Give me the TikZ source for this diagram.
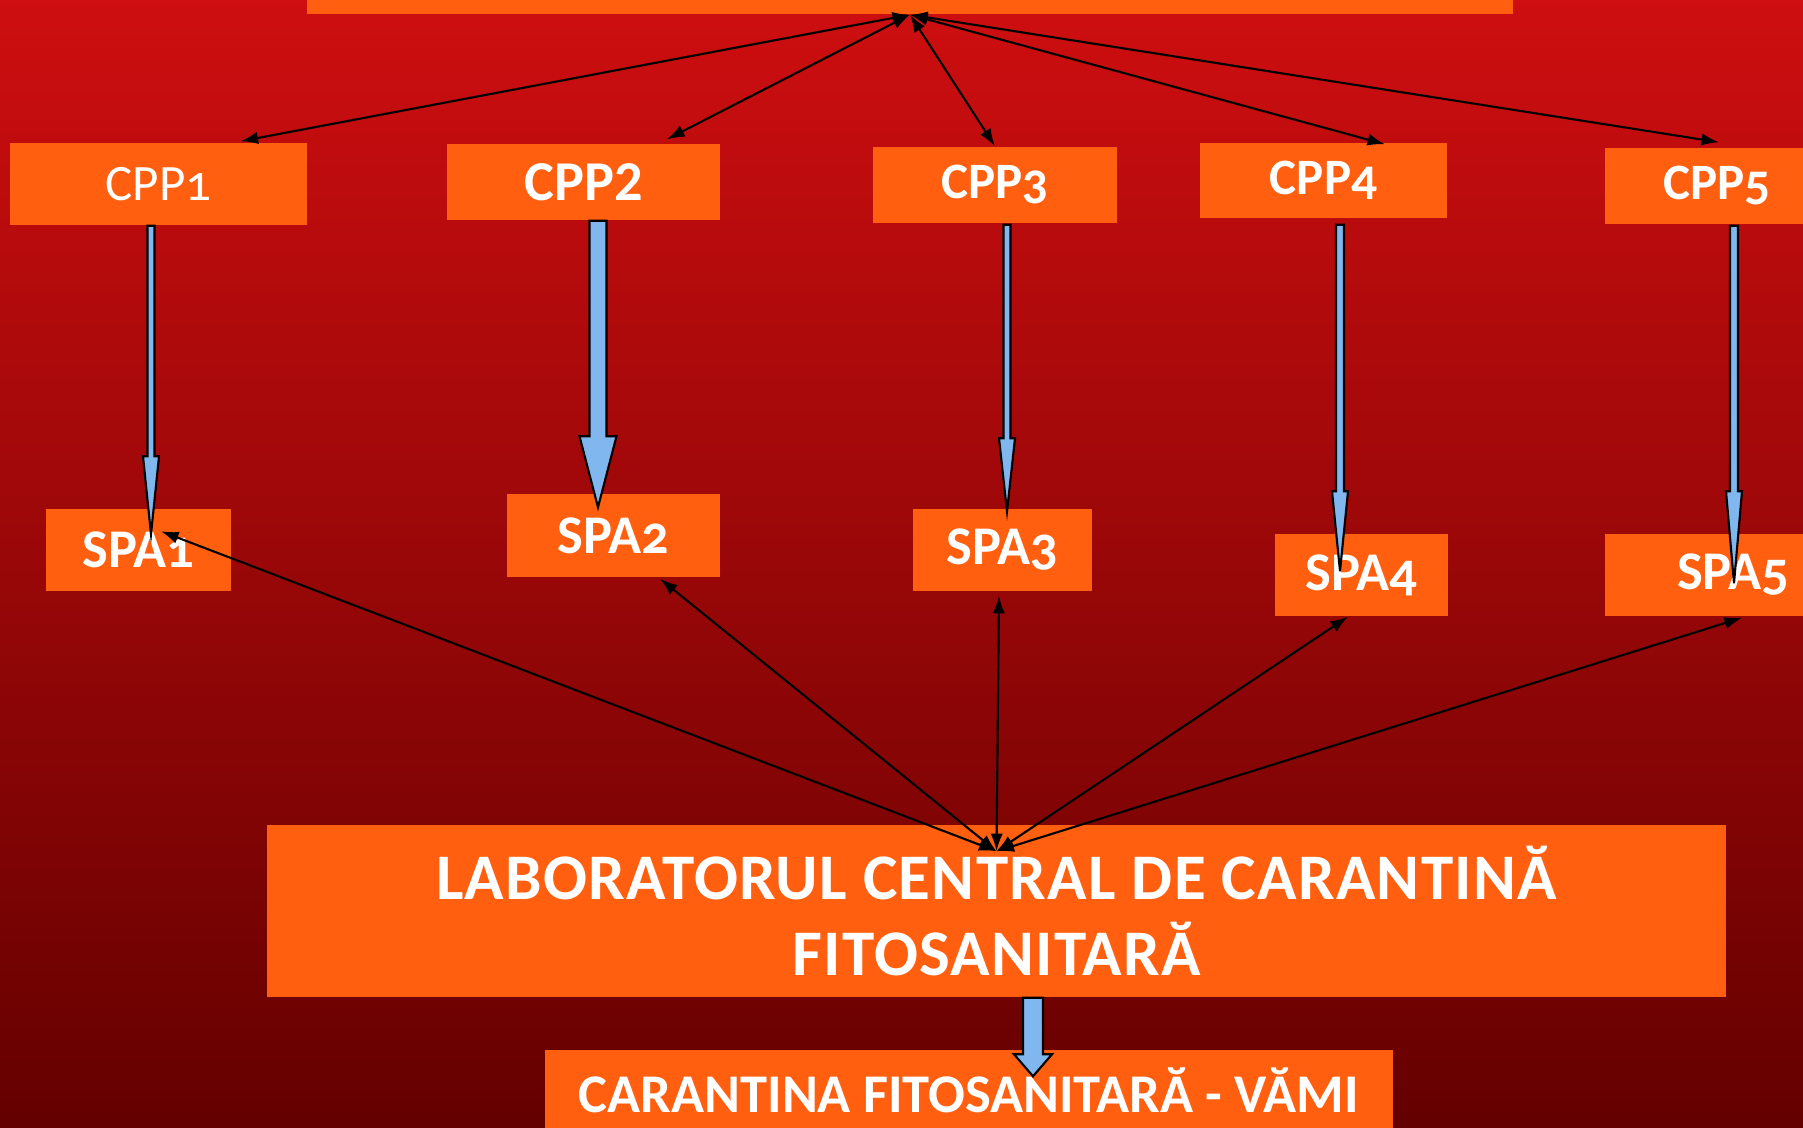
\documentclass[tikz,border=0pt]{standalone}
\usepackage{fontspec}
\setmainfont{Carlito}[Numbers=OldStyle]
\usetikzlibrary{arrows.meta,calc}
\definecolor{boxorange}{RGB}{255,95,14}
\definecolor{arrowblue}{RGB}{127,183,238}
\definecolor{bgtop}{RGB}{206,14,16}
\definecolor{bgmid}{RGB}{168,0,12}
\definecolor{bgbot}{RGB}{100,0,0}
\newcommand{\pxu}{0.2845pt}
% block arrow: start, tip, half shaft, half head, head length (px)
\newcommand{\blkarrow}[5]{%
  \draw[blue arrow] let \p1=#1, \p2=#2 in
    ({\x1-#3*\pxu},\y1) -- ({\x1-#3*\pxu},{\y2+#5*\pxu}) -- ({\x1-#4*\pxu},{\y2+#5*\pxu}) -- (\x1,\y2)
    -- ({\x1+#4*\pxu},{\y2+#5*\pxu}) -- ({\x1+#3*\pxu},{\y2+#5*\pxu}) -- ({\x1+#3*\pxu},\y1) -- cycle;}

\begin{document}
\begin{tikzpicture}[x=0.01cm, y=-0.01cm,
  box/.style={fill=boxorange, text=white, inner sep=0pt},
  cpp box/.style={box, font=\fontsize{14.5}{18}\selectfont\bfseries},
  spa box/.style={box, minimum height=0.82cm, font=\fontsize{15.5}{20}\selectfont\bfseries},
  link/.style={{Latex[length=5pt,width=3.5pt]}-{Latex[length=5pt,width=3.5pt]}, line width=0.6pt, black},
  blue arrow/.style={fill=arrowblue, draw=black, line width=0.6pt, line join=miter}]
\useasboundingbox (0,0) rectangle (1803,1128);
\clip (0,0) rectangle (1803,1128);
\shade[top color=bgtop, middle color=bgmid, bottom color=bgbot] (0,0) rectangle (1803,1128);

\node[box, minimum width=12.05cm, minimum height=0.68cm] (top) at (910,-20) {};
\node[cpp box, minimum width=2.97cm, minimum height=0.82cm, font=\fontsize{14.5}{18}\selectfont] (c1) at (158.5,184) {CPP1};
\node[cpp box, minimum width=2.73cm, minimum height=0.76cm, font=\fontsize{16}{18}\selectfont\bfseries] (c2) at (583.5,182) {CPP\liningnums{2}};
\node[cpp box, minimum width=2.44cm, minimum height=0.76cm] (c3) at (995,185) {CPP3};
\node[cpp box, minimum width=2.47cm, minimum height=0.75cm] (c4) at (1323.5,180.5) {CPP4};
\node[cpp box, minimum width=2.24cm, minimum height=0.76cm] (c5) at (1717,186) {CPP5};

\node[spa box, minimum width=1.85cm] (s1) at (138.5,550) {SPA1};
\node[spa box, minimum width=2.13cm, minimum height=0.83cm] (s2) at (613.5,535.5) {SPA2};
\node[spa box, minimum width=1.79cm] (s3) at (1002.5,550) {SPA3};
\node[spa box, minimum width=1.73cm] (s4) at (1361.5,575) {SPA4};
\node[spa box, minimum width=2.56cm] (s5) at (1733,575) {SPA5};

\node[box, minimum width=14.59cm, minimum height=1.72cm, align=center, font=\fontsize{18.5}{21.5}\selectfont\bfseries\addfontfeature{LetterSpace=2}] (lab) at (996.5,911)
  {LABORATORUL CENTRAL DE CARANTINĂ\\FITOSANITARĂ};
\node[box, minimum width=8.48cm, minimum height=0.8cm, font=\fontsize{15.5}{18}\selectfont\bfseries] (vami) at (969,1090)
  {CARANTINA FITOSANITARĂ - VĂMI};

\coordinate (hub) at (top.south);
\coordinate (lhub) at ($(lab.north)+(0,27)$);
\path[link]
(hub) edge ($(c1.north)+(82,-1)$)
(hub) edge ($(c2.north)+(83.5,-4)$)
(hub) edge ($(c3.north)+(0,0)$)
(hub) edge ($(c4.north)+(61.5,2)$)
(hub) edge ($(c5.north)+(2,-5)$)
(lhub) edge ($(s1.north)+(22.5,23)$)
(lhub) edge ($(s2.south)+(46.5,1)$)
(lhub) edge ($(s3.south)+(-3.5,4)$)
(lhub) edge ($(s4.south)+(-13.5,0)$)
(lhub) edge ($(s5.south)+(9,1)$);

\blkarrow{($(c1.south)+(-7.5,0)$)}{($(s1.north)+(0,26)$)}{3.5}{8}{78}
\blkarrow{($(c2.south)+(14.5,0)$)}{($(s2.north)+(0,14)$)}{8.5}{18.5}{71}
\blkarrow{($(c3.south)+(12,1)$)}{($(s3.north)+(0,3)$)}{3.5}{8}{73}
\blkarrow{($(c4.south)+(16.5,6)$)}{($(s4.north)+(0,38)$)}{4}{8}{80}
\blkarrow{($(c5.south)+(17,1)$)}{($(s5.north)+(0,50)$)}{4}{8}{92}
\blkarrow{($(lab.south)+(36.5,0)$)}{($(vami.north)+(0,27)$)}{10}{19}{22}
\end{tikzpicture}
\end{document}
